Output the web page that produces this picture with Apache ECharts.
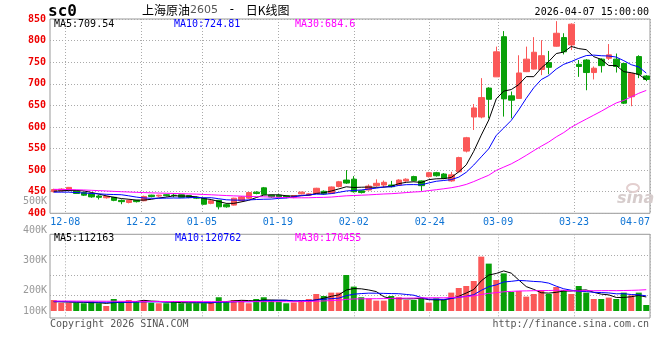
<!DOCTYPE html>
<html><head><meta charset="utf-8">
<script src="https://cdn.jsdelivr.net/npm/echarts@6/dist/echarts.min.js"></script>
<style>html,body{margin:0;padding:0;background:#fff}#c{width:660px;height:360px}</style>
</head><body><div id="c"></div>
<script>
// ---------- data ----------
const dates = ['12-04','12-05','12-08','12-09','12-10','12-11','12-12','12-15','12-16','12-17','12-18','12-19','12-22','12-23','12-24','12-25','12-26','12-29','12-30','12-31',
'01-05','01-06','01-07','01-08','01-09','01-12','01-13','01-14','01-15','01-16','01-19','01-20','01-21','01-22','01-23','01-26','01-27','01-28','01-29','01-30',
'02-02','02-03','02-04','02-05','02-06','02-09','02-10','02-11','02-12','02-13','02-24','02-25','02-26','02-27','03-02','03-03','03-04','03-05','03-06',
'03-09','03-10','03-11','03-12','03-13','03-16','03-17','03-18','03-19','03-20','03-23','03-24','03-25','03-26','03-27','03-30','03-31','04-01','04-02','04-03','04-07'];

const opens = [450,452,453,452,448,445,440,436,437,430, 425,430,429,442,440,443,442,443,441,437,
435,423,430,420,419,429,435,449,459,442, 442,440,437,445,442,446,451,446,462,477,
479,452,454,464,465.5,465.5,465.5,475,485,475, 485,494,491,475,496,544,623,623,690,716,
809,672,666,728,734,733,749,787,807,790, 745,755,726,757,759,757,747,670,763,718];
const closes = [455,456,460,446,442,438,437,439,430,427, 430,427,439,439,442,441,441,437,437,435,
421,429,415,415,435,438,448,446,444,438, 438,437,441,449,445,458,445,461,473,470,
450,448,463,469.5,471.8,461.6,477,479,475.5,464, 494,487,481,489,529,575,644,668,664,774,
665,662,725,757,773,765,738,817,774,838, 740,726,736,742,767,740,655,724,722,710];
const lows = [448,450,451,445,440,436,432,434,428,421, 423,425,428,437,438,439,437,436,435,433,
420,421,409,413,418,427,433,444,443,436, 437,435,435,444,440,445,443,445,460,468,
448,446,453,461.6,460,460,464,473,474,452, 483,485,479,473,495,541,593,620,620,716,
624,620,665,727,733,720,722,786,768,778, 716,685,710,726,755,726,653,648,713,706];
const highs = [457,458,461,453,449,446,443,441,438,432, 432,431,441,443,443,444,446,444,442,439,
436,431,431,423,436,440,449,451,461,443, 444,441,442,450,447,459,453,462,475,500,
486,453,467,478.7,476,475,479,481,487,476, 496,496,493,496,531,577,653,713,692,786,
822,682,766,786,808,801,776,845,817,840, 755,757,740,759,792,770,747,724,766,720];

const ma5 = [451,452,453,453,451.8,448.4,444.6,440.4,437.2,434.2, 432.6,430.6,430.6,432.4,435.4,437.6,440.4,440,439.6,438.2,
434.2,431.8,427.4,423,423,426.4,430.2,436.4,442.2,442.8, 442.8,440.6,439.6,440.6,442,446,447.6,451.6,456.4,461.4,
459.8,460.4,460.8,460.1,460.5,462.8,468.6,471.8,473,471.4, 477.9,479.9,480.3,483,496,512.2,543.6,581,616,665,
683,686.6,698,716.6,716.4,736.4,751.6,770,773.4,786.4, 781.4,779,762.8,756.4,742.2,742.2,728,725.6,721.6,709.54];
const ma10 = [449,449,449,448,447,446,445,444,443.5,443, 440.5,437.6,435.5,434.8,434.8,435.1,435.5,435.3,436,436.8,
435.9,436.1,433.7,431.3,430.6,430.3,431,431.9,432.6,432.9, 434.6,435.4,438,441.4,442.4,444.4,444.1,445.6,448.5,451.7,
452.9,454,456.2,458.3,460.9,461.3,464.5,466.3,466.5,465.9, 470.3,474.2,476,478,483.7,495,511.8,530.7,549.5,580.5,
597.6,615.1,639.5,666.3,690.7,709.7,719.1,734,745,751.4, 758.9,765.3,766.4,764.9,764.3,761.8,753.5,744.2,739,724.81];
const ma30 = [455.5,455.3,455,454.5,454,453.3,452.5,451.7,450.8,450, 449.3,448.6,448,447.4,446.9,446.4,445.9,445.4,444.9,444.4,
443.6,442.9,442,441.1,440.4,439.8,439.2,438.6,438.1,437.6, 437,436.4,435.8,435.9,436,436.6,436.9,437.6,439.1,440.5,
441.2,441.9,442.7,443.7,444.7,445.4,446.6,448,449.3,450.2, 452.6,454.6,456.8,459.2,462.4,466.9,473.5,480.9,488.2,499.4,
507,514.5,523.9,534.2,545.1,555.4,565.1,577,587,599.3, 609,618.2,627.3,636.4,646.3,655.5,661.5,669.6,677.9,684.6];

// volume in thousands of lots
const volumes = [88,66,66,66,62,75,62,40,96,75, 88,80,88,66,62,62,80,62,62,62,
62,72,110,72,88,85,62,96,110,88, 75,62,68,88,96,136,120,147,147,288,
195,110,101,83,83,120,110,88,88,101, 67,101,88,147,184,200,240,435,379,248,
301,152,160,115,136,168,136,192,168,136, 200,147,96,96,107,96,147,125,147,48];
const volMa5 = [75,74,72,70,69.6,67,66.2,61,67,69.6, 72.2,75.8,85.4,79.4,76.8,71.6,71.6,66.4,65.6,65.6,
65.6,64,73.6,75.6,80.8,85.4,83.4,80.6,88.2,88.2, 86.2,86.2,80.6,76.2,77.8,90,101.6,117.4,129.2,167.6,
179.4,177.4,168.2,155.4,114.4,99.4,99.4,96.8,97.8,101.4, 90.8,89,89,100.8,117.4,144,171.8,241.2,287.6,300.4,
320.6,303,248,195.2,172.8,146.2,143,149.4,160,160, 166.4,168.6,149.4,135,129.2,108.4,108.4,114.2,124.4,112.163];
const volMa10 = [75,75,74,73,72,71,70.5,70,69.8,69.6, 69.6,71,73.2,73.2,73.2,71.9,73.7,75.9,72.5,71.2,
68.6,67.8,70,70.6,73.2,75.5,73.7,77.1,81.9,84.5, 85.8,84.8,80.6,82.2,83,88.1,93.9,99,102.7,122.7,
134.7,139.5,142.8,142.3,141,139.4,138.4,132.5,126.6,107.9, 95.1,94.2,92.9,99.3,109.4,117.4,130.4,165.1,194.2,208.9,
232.3,237.4,244.6,241.4,236.6,233.4,223,198.7,177.6,166.4, 156.3,155.8,149.4,147.5,144.6,137.4,138.5,131.8,129.7,120.762];
const volMa30 = [80,80,80,79.5,79,79,78.5,78,78,77.5, 77,77,77,76.5,76.5,76,76,76,75.5,75.5,
75,75,75,75,75,75,75,75,75,75.1, 74.7,74.5,74.6,75.3,76.5,78.5,80.4,84,85.7,92.8,
96.4,97.4,97.8,98.4,99.1,101,102,102.9,103.8,105.1, 105.2,106.2,105.5,108,111.2,115,120.9,132.2,141.2,146.5,
154,157,160.1,161,162.3,163.4,163.9,165.4,166.1,161, 161.2,162.4,162.3,162.7,163.5,162.7,163.9,165.2,167.1,170.455];

const dateTickLabels = ['12-08','12-22','01-05','01-19','02-02','02-24','03-09','03-23','04-07'];
const volTickLabels = ['500K','400K','300K','200K','100K'];
const priceLegend = ['MA5:709.54','MA10:724.81','MA30:684.6'];
const volLegend = ['MA5:112163','MA10:120762','MA30:170455'];
const symbolText = 'sc0';
const titleName = '上海原油', titleCode = '2605', titleSep = ' - ', titleTail = '日K线图';
const timeText = '2026-04-07 15:00:00';
const copyrightText = 'Copyright 2026 SINA.COM';
const urlText = 'http://finance.sina.com.cn';

// ---------- style ----------
const RED = '#fb5858', GREEN = '#08a008', BLUE_LBL = '#0f74d4';
const MONO = '"DejaVu Sans Mono", monospace';
const GRIDC = '#aaaaaa';
const dotted = {color: GRIDC, width: 1, type: [1, 2]};
const tickIdx = dateTickLabels.map(d => dates.indexOf(d));
const lastIdx = dates.length - 1;
const isUp = i => closes[i] >= opens[i];

const chart = echarts.init(document.getElementById('c'), null, {renderer: 'canvas'});

function lineSeries(data, color, xi, yi) {
  return {type: 'line', data, xAxisIndex: xi, yAxisIndex: yi, showSymbol: false, symbol: 'none',
    lineStyle: {color, width: 1}, itemStyle: {color}, silent: true, z: 5};
}
function txt(text, x, y, fill, align, font) {
  return {type: 'text', x, y, silent: true, z: 100,
    style: {text, fill, font: font || ('10px ' + MONO), textAlign: align || 'left', textVerticalAlign: 'middle'}};
}

const option = {
  animation: false,
  backgroundColor: '#ffffff',
  textStyle: {fontFamily: MONO},
  grid: [
    {left: 50, top: 19, width: 600, height: 194.3, show: true, borderColor: '#999', borderWidth: 1, backgroundColor: 'transparent'},
    {left: 50, top: 234.3, width: 600, height: 83.7, show: true, borderColor: '#999', borderWidth: 1, backgroundColor: 'transparent'}
  ],
  xAxis: [
    {type: 'category', gridIndex: 0, data: dates, boundaryGap: true, position: 'top', show: false},
    {type: 'category', gridIndex: 1, data: dates, boundaryGap: true, position: 'top', show: false},
    {type: 'value', gridIndex: 0, min: 0, max: lastIdx, position: 'bottom',
      axisLine: {show: false}, axisTick: {show: false, customValues: tickIdx},
      axisLabel: {customValues: tickIdx, color: BLUE_LBL, fontFamily: MONO, fontSize: 10, margin: 4,
        showMinLabel: true, showMaxLabel: true, hideOverlap: false,
        formatter: v => (v === lastIdx ? '{last|' + dates[v] + '}' : dates[v]),
        rich: {last: {color: BLUE_LBL, fontFamily: MONO, fontSize: 10, padding: [0, 30, 0, 0]}}},
      splitLine: {show: true, lineStyle: dotted}},
    {type: 'value', gridIndex: 1, min: 0, max: lastIdx, position: 'bottom',
      axisLine: {show: false}, axisTick: {show: false, customValues: tickIdx}, axisLabel: {show: false},
      splitLine: {show: true, lineStyle: dotted}}
  ],
  yAxis: [
    {type: 'value', gridIndex: 0, min: 400, max: 850, interval: 50, position: 'left',
      axisLine: {show: false}, axisTick: {show: false},
      axisLabel: {color: '#ee0000', fontFamily: MONO, fontSize: 10, fontWeight: 'bold', margin: 4, padding: [0, 0, 4, 0]},
      splitLine: {show: true, lineStyle: dotted}},
    {type: 'value', gridIndex: 1, min: -56, max: 613.6, position: 'left',
      axisLine: {show: false}, axisTick: {show: false, customValues: [128, 288, 448]}, axisLabel: {show: false},
      splitLine: {show: true, lineStyle: dotted}}
  ],
  series: [
    {type: 'candlestick', xAxisIndex: 0, yAxisIndex: 0, barWidth: 6,
      data: opens.map((o, i) => [o, closes[i], lows[i], highs[i]]),
      itemStyle: {color: RED, color0: GREEN, borderColor: RED, borderColor0: GREEN, borderWidth: 1}, z: 3},
    lineSeries(ma5, '#000000', 0, 0),
    lineSeries(ma10, '#0000ff', 0, 0),
    lineSeries(ma30, '#ff00ff', 0, 0),
    {type: 'bar', xAxisIndex: 1, yAxisIndex: 1, barWidth: 6, data: volumes,
      itemStyle: {color: p => (isUp(p.dataIndex) ? RED : GREEN)}, z: 3},
    lineSeries(volMa5, '#000000', 1, 1),
    lineSeries(volMa10, '#0000ff', 1, 1),
    lineSeries(volMa30, '#ff00ff', 1, 1)
  ],
  graphic: [
    txt(symbolText, 48, 12, '#000', 'left', 'bold 16px ' + MONO),
    {type: 'text', x: 142, y: 10, silent: true, z: 100,
      style: {text: '{a|' + titleName + '}{b|' + titleCode + '}{s|' + titleSep + '}{a|' + titleTail + '}', textVerticalAlign: 'middle',
        rich: {a: {font: '12px "Noto Sans CJK SC"', fill: '#000'},
               b: {font: '11px "DejaVu Sans"', fill: '#555'},
               s: {font: '12px ' + MONO, fill: '#000', padding: [0, 3, 0, 3]}}}},
    txt(timeText, 649, 12, '#000', 'right'),
    txt(priceLegend[0], 54, 24, '#000'),
    txt(priceLegend[1], 174, 24, '#0000ff'),
    txt(priceLegend[2], 295, 24, '#ff00ff'),
    txt(volLegend[0], 54, 238.5, '#000'),
    txt(volLegend[1], 175, 238.5, '#0000ff'),
    txt(volLegend[2], 295, 238.5, '#ff00ff'),
    txt(volTickLabels[0], 47, 201, '#999', 'right'),
    txt(volTickLabels[1], 47, 230, '#999', 'right'),
    txt(volTickLabels[2], 47, 260.5, '#999', 'right'),
    txt(volTickLabels[3], 47, 290.5, '#999', 'right'),
    txt(volTickLabels[4], 47, 311, '#999', 'right'),
    txt(copyrightText, 50, 324, '#555'),
    txt(urlText, 649, 324, '#555', 'right'),
    {type: 'ellipse', shape: {cx: 633, cy: 188, rx: 6, ry: 4}, silent: true, z: 1,
      style: {fill: 'none', stroke: '#e3cfcf', lineWidth: 2}},
    txt('sina', 617, 199, '#d6cccc', 'left', 'italic bold 16px "DejaVu Sans"')
  ]
};
chart.setOption(option);
</script></body></html>
